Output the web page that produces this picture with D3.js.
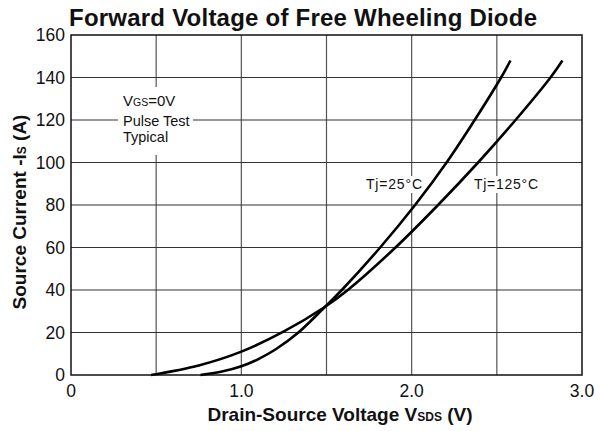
<!DOCTYPE html>
<html>
<head>
<meta charset="utf-8">
<script src="https://cdn.jsdelivr.net/npm/d3@7"></script>
<style>
  body { margin: 0; background: #fff; }
  text { font-family: "Liberation Sans", Arial, sans-serif; fill: #111; }
</style>
</head>
<body>
<svg id="chart" width="600" height="431"></svg>
<script>
// Data (V, A)
const curve25 = [
    [0.76, 0], [0.88, 1.5], [1.0, 4.1], [1.1, 7.5], [1.2, 12], [1.335, 20],
    [1.49, 32], [1.59, 40], [1.815, 60], [2.02, 80], [2.205, 100],
    [2.37, 120], [2.525, 140], [2.58, 148]
];
const curve125 = [
    [0.47, 0], [0.75, 4.5], [1.0, 11], [1.25, 20.5], [1.49, 32],
    [1.625, 40], [1.905, 60], [2.155, 80], [2.39, 100], [2.61, 120],
    [2.815, 140], [2.885, 148]
];
const xTicks = [0, 1.0, 2.0, 3.0];
const xGrid = [0.5, 1.0, 1.5, 2.0, 2.5];
const yTicks = [0, 20, 40, 60, 80, 100, 120, 140, 160];
const noteLines = ["Pulse Test", "Typical"];

// Scales
var svg = d3.select("#chart");
var x = d3.scaleLinear().domain([0, 3]).range([71, 582]);
var y = d3.scaleLinear().domain([0, 160]).range([375, 35]);

// Grid lines
svg.append("g").selectAll("line.v")
    .data(xGrid).enter().append("line")
    .attr("x1", d => x(d)).attr("x2", d => x(d))
    .attr("y1", y(0)).attr("y2", y(160))
    .style("stroke", "#555").style("stroke-width", 1.2);
svg.append("g").selectAll("line.h")
    .data(yTicks.slice(1, -1)).enter().append("line")
    .attr("x1", x(0)).attr("x2", x(3))
    .attr("y1", d => y(d)).attr("y2", d => y(d))
    .style("stroke", "#333").style("stroke-width", 1.2);

// Frame
svg.append("rect")
    .attr("x", x(0)).attr("y", y(160))
    .attr("width", x(3) - x(0)).attr("height", y(0) - y(160))
    .style("fill", "none").style("stroke", "#111").style("stroke-width", 1.5);

// Curves
var line = d3.line()
    .x(d => x(d[0])).y(d => y(d[1]))
    .curve(d3.curveCatmullRom.alpha(0.5));
[curve25, curve125].forEach(function (c) {
    svg.append("path").datum(c)
        .attr("d", line)
        .style("fill", "none").style("stroke", "#000").style("stroke-width", 2.6);
});

// Tick labels
svg.append("g").selectAll("text")
    .data(yTicks).enter().append("text")
    .attr("x", 65).attr("y", d => y(d) + 6)
    .attr("text-anchor", "end")
    .style("font-size", "17.5px")
    .text(d => d);
svg.append("g").selectAll("text")
    .data(xTicks).enter().append("text")
    .attr("x", d => x(d)).attr("y", 397)
    .attr("text-anchor", "middle")
    .style("font-size", "17.5px")
    .text(d => d === 0 ? "0" : d.toFixed(1));

// Note box (white background over grid)
svg.append("rect")
    .attr("x", 118).attr("y", 87).attr("width", 75).attr("height", 68)
    .style("fill", "#fff");
var vgs = svg.append("text").attr("x", 123).attr("y", 106).style("font-size", "15px");
vgs.append("tspan").text("V");
vgs.append("tspan").style("font-size", "10.5px").text("GS");
vgs.append("tspan").text("=0V");
svg.append("g").selectAll("text")
    .data(noteLines).enter().append("text")
    .attr("x", 123).attr("y", (d, i) => 126 + i * 16)
    .style("font-size", "14.5px")
    .text(d => d);

// Curve labels
var labels = [
    {t: "Tj=25°C", x: 366, w: 56},
    {t: "Tj=125°C", x: 474, w: 64}
];
labels.forEach(function (l) {
    svg.append("rect").attr("x", l.x - 2).attr("y", 176)
        .attr("width", l.w + 2).attr("height", 17).style("fill", "#fff");
    svg.append("text").attr("x", l.x).attr("y", 189)
        .attr("textLength", l.w).attr("lengthAdjust", "spacing")
        .style("font-size", "14px").text(l.t);
});

// Title
svg.append("text")
    .attr("x", 69).attr("y", 26)
    .attr("textLength", 468).attr("lengthAdjust", "spacing")
    .style("font-size", "24px").style("font-weight", "bold")
    .text("Forward Voltage of Free Wheeling Diode");

// X axis label
var xl = svg.append("text")
    .attr("x", 340).attr("y", 421)
    .attr("text-anchor", "middle")
    .style("font-size", "19px").style("font-weight", "bold");
xl.append("tspan").text("Drain-Source Voltage V");
xl.append("tspan").style("font-size", "12px").text("SDS");
xl.append("tspan").text(" (V)");

// Y axis label
var yl = svg.append("text")
    .attr("transform", "translate(26,212) rotate(-90)")
    .attr("text-anchor", "middle")
    .style("font-size", "19px").style("font-weight", "bold");
yl.append("tspan").text("Source Current -I");
yl.append("tspan").style("font-size", "12px").text("S");
yl.append("tspan").text(" (A)");
</script>
</body>
</html>
